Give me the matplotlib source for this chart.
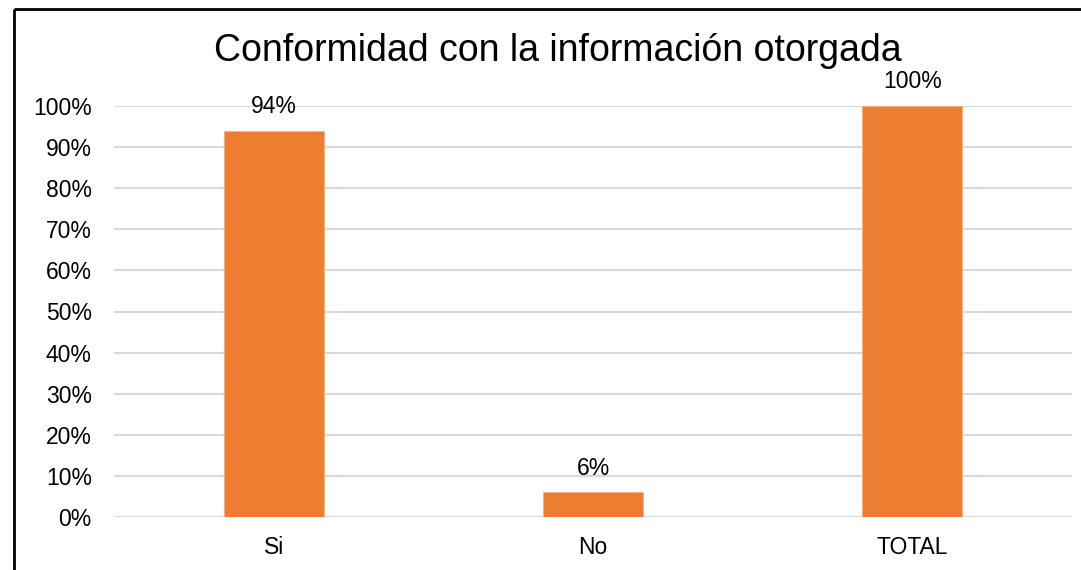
import matplotlib
matplotlib.use("Agg")
import matplotlib.pyplot as plt
from matplotlib.lines import Line2D

categories = ["Si", "No", "TOTAL"]
values = [94, 6, 100]
labels = ["94%", "6%", "100%"]
yticks = [0, 10, 20, 30, 40, 50, 60, 70, 80, 90, 100]
title = "Conformidad con la información otorgada"

plt.rcParams['font.family'] = ['Liberation Sans', 'DejaVu Sans']

W, H = 1081, 570
fig = plt.figure(figsize=(W/100, H/100), dpi=100)
ax = fig.add_axes([114/W, 1-517/H, (1072-114)/W, (517-106)/H])

x = list(range(len(categories)))
ax.bar(x, values, width=0.313, color="#ED7D31", edgecolor="#F4B183", linewidth=0.6, zorder=3)
ax.set_xlim(-0.5, 2.5)
ax.set_ylim(0, 100)
ax.set_yticks(yticks)
ax.set_yticklabels([f"{t}%" for t in yticks], fontsize=16.5)
ax.set_xticks(x)
ax.set_xticklabels(categories, fontsize=16.5)
ax.tick_params(axis='both', length=0)
ax.tick_params(axis='y', pad=16)
ax.tick_params(axis='x', pad=14)
ax.grid(axis='y', color="#D9D9D9", linewidth=1.5, zorder=0)
for s in ax.spines.values():
    s.set_visible(False)

for xi, v, lab in zip(x, values, labels):
    ax.annotate(lab, (xi, v), xytext=(0, 9), textcoords='offset points',
                ha='center', va='bottom', fontsize=16.5)

fig.text((216+900)/2/W, 1-51/H, title, ha='center', va='center', fontsize=27)

# outer frame (left and top edges visible)
fig.add_artist(Line2D([14/W, 14/W], [-0.05, 1-9/H], transform=fig.transFigure,
                      color='black', linewidth=2, solid_capstyle='butt'))
fig.add_artist(Line2D([14/W, 1.05], [1-9/H, 1-9/H], transform=fig.transFigure,
                      color='black', linewidth=2, solid_capstyle='butt'))

fig.savefig("out.png", dpi=100)
